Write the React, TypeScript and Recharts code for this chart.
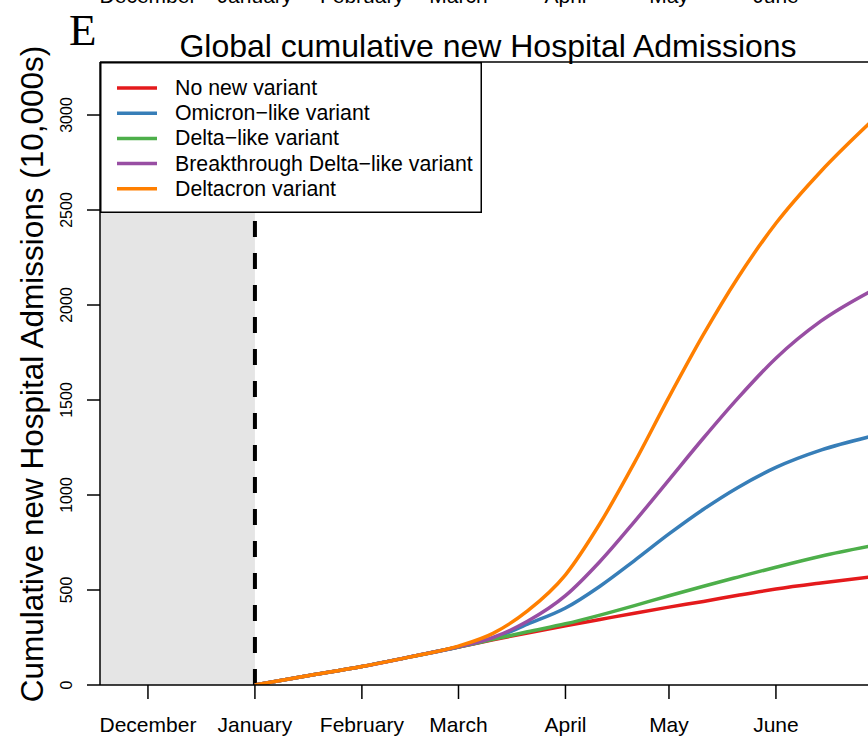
import React from 'react';
import {
  ComposedChart,
  Line,
  XAxis,
  YAxis,
  ReferenceArea,
  ReferenceLine,
  Legend,
} from 'recharts';

// days counted from 1 December (0 = Dec 1, 31 = Jan 1, ...)
const days = [31, 45, 62, 76, 90, 100, 110, 121, 131, 141, 151, 161, 171, 182, 195, 209];
const noNewVariant = [0, 45, 97, 148, 200, 238, 274, 312, 345, 378, 410, 440, 472, 505, 537, 568];
const omicronLike = [0, 45, 97, 148, 200, 245, 320, 405, 520, 655, 795, 925, 1040, 1145, 1236, 1306];
const deltaLike = [0, 45, 97, 148, 200, 240, 280, 322, 368, 418, 470, 520, 568, 620, 678, 730];
const breakthroughDelta = [0, 45, 97, 148, 201, 250, 335, 470, 650, 860, 1080, 1300, 1510, 1720, 1915, 2068];
const deltacron = [0, 45, 97, 148, 205, 272, 390, 580, 850, 1170, 1515, 1845, 2145, 2430, 2703, 2955];

const monthTicks = [0, 31, 62, 90, 121, 151, 182];
const monthLabels = ['December', 'January', 'February', 'March', 'April', 'May', 'June'];
const yTicks = [0, 500, 1000, 1500, 2000, 2500, 3000];

const X_MIN = -13.9;
const X_MAX = 211;
const Y_MAX = 3279;
const START_DAY = 31;

const SERIES = [
  { key: 'noNew', name: 'No new variant', color: '#E41A1C', values: noNewVariant },
  { key: 'omicron', name: 'Omicron\u2212like variant', color: '#377EB8', values: omicronLike },
  { key: 'delta', name: 'Delta\u2212like variant', color: '#4DAF4A', values: deltaLike },
  { key: 'breakthrough', name: 'Breakthrough Delta\u2212like variant', color: '#984EA3', values: breakthroughDelta },
  { key: 'deltacron', name: 'Deltacron variant', color: '#FF7F00', values: deltacron },
];

const data = days.map((day, i) => {
  const row: Record<string, number> = { day };
  SERIES.forEach((s) => {
    row[s.key] = s.values[i];
  });
  return row;
});

const FONT = '"Liberation Sans", Arial, Helvetica, sans-serif';

function monthName(day: number) {
  const i = monthTicks.indexOf(day);
  return i >= 0 ? monthLabels[i] : '';
}

const renderXTick = ({ x, y, payload }: any) => (
  <text
    x={x}
    y={y + 33}
    textAnchor="middle"
    fill="#000"
    style={{ fontSize: '21px', fontFamily: FONT }}
  >
    {monthName(payload.value)}
  </text>
);

const renderYTick = ({ x, y, payload }: any) => {
  const tx = x - 15;
  return (
    <text
      x={tx}
      y={y}
      transform={`rotate(-90 ${tx} ${y})`}
      textAnchor="middle"
      fill="#000"
      style={{ fontSize: '16px', fontFamily: FONT }}
    >
      {payload.value}
    </text>
  );
};

function LegendBox() {
  return (
    <svg width={382} height={151} style={{ display: 'block' }}>
      <rect x={0.75} y={0.75} width={380.5} height={149.5} fill="#fff" stroke="#000" strokeWidth={1.5} />
      {SERIES.map((s, i) => {
        const base = 33 + i * 25.2;
        return (
          <g key={s.key}>
            <line x1={17} x2={57} y1={base - 7} y2={base - 7} stroke={s.color} strokeWidth={3.5} />
            <text x={75} y={base} fill="#000" style={{ fontSize: '21.3px', fontFamily: FONT }}>
              {s.name}
            </text>
          </g>
        );
      })}
    </svg>
  );
}

export default function App() {
  return (
    <div
      style={{
        position: 'absolute',
        left: 0,
        top: 0,
        width: 868,
        height: 739,
        overflow: 'hidden',
        background: '#fff',
      }}
    >
      <ComposedChart
        width={876}
        height={739}
        data={data}
        margin={{ top: 62, right: 0, bottom: 0, left: 0 }}
      >
        <ReferenceArea x1={X_MIN} x2={START_DAY} y1={0} y2={Y_MAX} fill="#E5E5E5" fillOpacity={1} stroke="none" />
        <XAxis
          dataKey="day"
          type="number"
          domain={[X_MIN, X_MAX]}
          ticks={monthTicks}
          interval={0}
          allowDataOverflow
          height={54}
          tickSize={14}
          tickMargin={0}
          axisLine={{ stroke: '#000', strokeWidth: 1.5 }}
          tickLine={{ stroke: '#000', strokeWidth: 1.5 }}
          tick={renderXTick}
        />
        <YAxis
          type="number"
          domain={[0, Y_MAX]}
          ticks={yTicks}
          interval={0}
          allowDataOverflow
          width={100}
          tickSize={13}
          tickMargin={0}
          axisLine={{ stroke: '#000', strokeWidth: 1.5 }}
          tickLine={{ stroke: '#000', strokeWidth: 1.5 }}
          tick={renderYTick}
        />
        <ReferenceLine y={Y_MAX} stroke="#000" strokeWidth={1.5} />
        <ReferenceLine x={START_DAY} stroke="#000" strokeWidth={4} strokeDasharray="16 16" />
        {SERIES.map((s) => (
          <Line
            key={s.key}
            type="monotone"
            dataKey={s.key}
            name={s.name}
            stroke={s.color}
            strokeWidth={3.5}
            dot={false}
            activeDot={false}
            isAnimationActive={false}
          />
        ))}
        <Legend
          layout="vertical"
          align="center"
          verticalAlign="middle"
          wrapperStyle={{ left: 100, top: 62, width: 382, height: 151 }}
          content={() => <LegendBox />}
        />
      </ComposedChart>
      <svg
        width={868}
        height={739}
        style={{ position: 'absolute', left: 0, top: 0, pointerEvents: 'none' }}
      >
        {/* labels of the panel above, cut off by the edge */}
        {monthTicks.map((d, i) => (
          <text
            key={d}
            x={148 + d * 3.4505}
            y={3}
            textAnchor="middle"
            fill="#000"
            style={{ fontSize: '21px', fontFamily: FONT }}
          >
            {monthLabels[i]}
          </text>
        ))}
        <text
          x={69}
          y={45}
          fill="#000"
          style={{ fontSize: '45px', fontFamily: '"Liberation Serif", "Times New Roman", serif' }}
        >
          E
        </text>
        <text x={488} y={57} textAnchor="middle" fill="#000" style={{ fontSize: '32px', fontFamily: FONT }}>
          Global cumulative new Hospital Admissions
        </text>
        <text
          x={43}
          y={374}
          transform="rotate(-90 43 374)"
          textAnchor="middle"
          fill="#000"
          style={{ fontSize: '31.5px', fontFamily: FONT }}
        >
          Cumulative new Hospital Admissions (10,000s)
        </text>
      </svg>
    </div>
  );
}
